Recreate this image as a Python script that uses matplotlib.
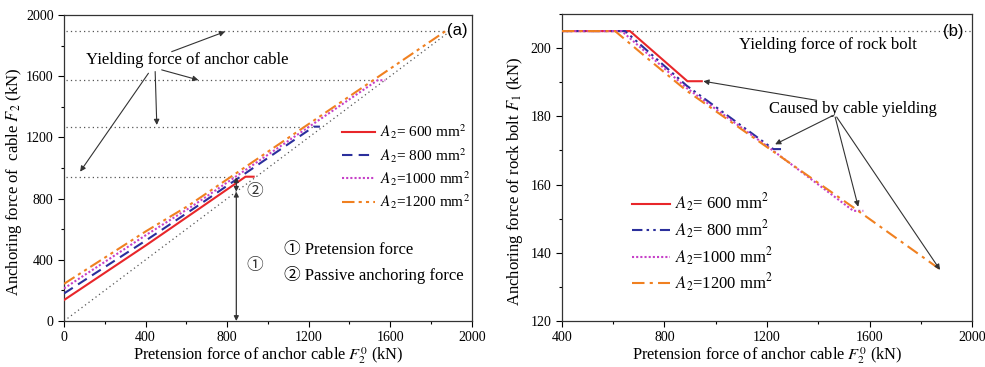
import matplotlib
matplotlib.use("Agg")
import matplotlib.pyplot as plt
from matplotlib.ticker import MultipleLocator

plt.rcParams['font.family'] = ['Liberation Serif', 'DejaVu Serif']
plt.rcParams['mathtext.fontset'] = 'stix'

# ---------------- data: panel (a) ----------------
labels = [r'$A_2$= 600 mm$^2$', r'$A_2$= 800 mm$^2$', r'$A_2$=1000 mm$^2$', r'$A_2$=1200 mm$^2$']
a_x600 = [0, 400, 666, 890, 930]
a_y600 = [137, 493, 737, 943, 943]
a_x800 = [0, 400, 647, 1225, 1255]
a_y800 = [180, 525, 745, 1270, 1270]
a_x1000 = [0, 400, 634, 1537, 1576]
a_y1000 = [213, 560, 755, 1573, 1573]
a_x1200 = [0, 400, 608, 1872]
a_y1200 = [243, 585, 752, 1895]
yield_cable = [943, 1270, 1573, 1895]
yield_cable_xend = [830, 1222, 1550, 1880]
diag_x = [0, 1880]
diag_y = [0, 1880]

# ---------------- data: panel (b) ----------------
b_x600 = [400, 666, 890, 946]
b_y600 = [205, 205, 190.3, 190.3]
b_x800 = [400, 647, 887, 1225, 1255]
b_y800 = [205, 205, 189.0, 170.4, 170.4]
b_x1000 = [400, 634, 887, 1200, 1537, 1576]
b_y1000 = [205, 205, 188.3, 171.3, 152.3, 152.3]
b_x1200 = [400, 608, 750, 887, 1200, 1537, 1872]
b_y1200 = [205, 205, 196, 187.5, 171, 153.3, 135.3]
yield_bolt = 205

colors = ['#e8262a', '#2b2f9c', '#c640c8', '#f08020']

fig = plt.figure(figsize=(9.85, 3.67), dpi=100)
axa = fig.add_axes([0.065, 0.1253, 0.414, 0.834])
axb = fig.add_axes([0.5703, 0.1253, 0.4166, 0.8365])

# ---- panel (a) ----
for y, xe in zip(yield_cable, yield_cable_xend):
    axa.plot([10, xe], [y, y], linestyle=(0, (1, 2.5)), color='#555555', lw=0.9, zorder=1)
axa.plot(diag_x, diag_y, linestyle=(0, (1, 2.5)), color='#555555', lw=0.9, zorder=1)

axa.plot(a_x600, a_y600, color=colors[0], lw=1.5, ls='-', label=labels[0], zorder=3)
axa.plot(a_x800, a_y800, color=colors[1], lw=1.5, ls=(0, (5, 3)), label=labels[1], zorder=3)
axa.plot(a_x1000, a_y1000, color=colors[2], lw=1.5, ls=(0, (1, 1)), label=labels[2], zorder=3)
axa.plot(a_x1200, a_y1200, color=colors[3], lw=1.5, ls=(0, (6, 2, 1.5, 2, 1.5, 2)), label=labels[3], zorder=3)

axa.set_xlim(0, 2000)
axa.set_ylim(0, 2000)
axa.xaxis.set_major_locator(MultipleLocator(400))
axa.xaxis.set_minor_locator(MultipleLocator(200))
axa.yaxis.set_major_locator(MultipleLocator(400))
axa.yaxis.set_minor_locator(MultipleLocator(200))
axa.set_xlabel(r'Pretension force of anchor cable $F_2^0$ (kN)', fontsize=11.8, labelpad=0.5)
axa.set_ylabel(r'Anchoring force of  cable $F_2$ (kN)', fontsize=12)
axa.yaxis.set_label_coords(-0.097, 0.455)

# double arrows
arr = dict(arrowstyle='<|-|>', color='#333333', lw=0.9, mutation_scale=7, shrinkA=0, shrinkB=0)
axa.annotate('', xy=(845, 0), xytext=(845, 845), arrowprops=arr)
axa.annotate('', xy=(845, 845), xytext=(845, 940), arrowprops=arr)
axa.text(937, 366, '①', fontsize=12, ha='center', va='center', family=['Noto Sans CJK SC', 'DejaVu Sans'], color='#333333')
axa.text(934, 845, '②', fontsize=12, ha='center', va='center', family=['Noto Sans CJK SC', 'DejaVu Sans'], color='#333333')
axa.text(1080, 464, '① Pretension force', fontsize=12, ha='left', va='center',
         family=['Liberation Serif', 'Noto Sans CJK SC'])
axa.text(1080, 300, '② Passive anchoring force', fontsize=12, ha='left', va='center',
         family=['Liberation Serif', 'Noto Sans CJK SC'])

axa.text(602, 1706, 'Yielding force of anchor cable', fontsize=12, ha='center', va='center')
arr1 = dict(arrowstyle='-|>', color='#333333', lw=0.8, mutation_scale=8, shrinkA=0, shrinkB=0)
axa.annotate('', xy=(790, 1891), xytext=(528, 1760), arrowprops=arr1)
axa.annotate('', xy=(659, 1575), xytext=(479, 1641), arrowprops=arr1)
axa.annotate('', xy=(455, 1281), xytext=(447, 1630), arrowprops=arr1)
axa.annotate('', xy=(79, 976), xytext=(414, 1619), arrowprops=arr1)

axa.text(1927, 1897, '(a)', fontsize=12, ha='center', va='center', family='Liberation Sans')

axa.legend(loc='upper left', bbox_to_anchor=(0.681, 0.648), frameon=False, fontsize=11,
           handlelength=2.2, handletextpad=0.3, labelspacing=0.3, borderaxespad=0, borderpad=0)

# ---- panel (b) ----
axb.plot([400, 2000], [yield_bolt, yield_bolt], linestyle=(0, (1, 2.5)), color='#555555', lw=0.9, zorder=1)
axb.plot(b_x600, b_y600, color=colors[0], lw=1.5, ls='-', label=labels[0], zorder=3)
axb.plot(b_x800, b_y800, color=colors[1], lw=1.5, ls=(0, (5, 2, 1.2, 2, 1.2, 2)), label=labels[1], zorder=3)
axb.plot(b_x1000, b_y1000, color=colors[2], lw=1.5, ls=(0, (1, 1)), label=labels[2], zorder=3)
axb.plot(b_x1200, b_y1200, color=colors[3], lw=1.5, ls=(0, (6, 2.5, 1.5, 2.5)), label=labels[3], zorder=3)

axb.set_xlim(400, 2000)
axb.set_ylim(120, 210)
axb.xaxis.set_major_locator(MultipleLocator(400))
axb.xaxis.set_minor_locator(MultipleLocator(200))
axb.yaxis.set_major_locator(MultipleLocator(20))
axb.yaxis.set_minor_locator(MultipleLocator(10))
axb.set_xlabel(r'Pretension force of anchor cable $F_2^0$ (kN)', fontsize=11.8, labelpad=0.5)
axb.set_ylabel(r'Anchoring force of rock bolt $F_1$ (kN)', fontsize=12)
axb.yaxis.set_label_coords(-0.09, 0.455)

axb.text(1437, 200.8, 'Yielding force of rock bolt', fontsize=12, ha='center', va='center')
axb.text(1535, 182.3, 'Caused by cable yielding', fontsize=12, ha='center', va='center')
axb.annotate('', xy=(952, 190.3), xytext=(1394, 184.7), arrowprops=arr1)
axb.annotate('', xy=(1232, 171.8), xytext=(1459, 180.3), arrowprops=arr1)
axb.annotate('', xy=(1556, 153.5), xytext=(1466, 179.8), arrowprops=arr1)
axb.annotate('', xy=(1875, 135), xytext=(1472, 179.8), arrowprops=arr1)
axb.text(1927, 205, '(b)', fontsize=12, ha='center', va='center', family='Liberation Sans')

axb.legend(loc='upper left', bbox_to_anchor=(0.171, 0.42), frameon=False, fontsize=12,
           handlelength=2.3, handletextpad=0.3, labelspacing=0.25, borderaxespad=0, borderpad=0)

for ax in (axa, axb):
    ax.tick_params(axis='both', which='major', direction='out', length=4, width=0.8, labelsize=10,
                   top=False, right=False)
    ax.tick_params(axis='both', which='minor', direction='out', length=2.5, width=0.8,
                   top=False, right=False)
    for s in ax.spines.values():
        s.set_linewidth(0.9)
        s.set_color('#333333')

fig.savefig('out.png', dpi=100)
